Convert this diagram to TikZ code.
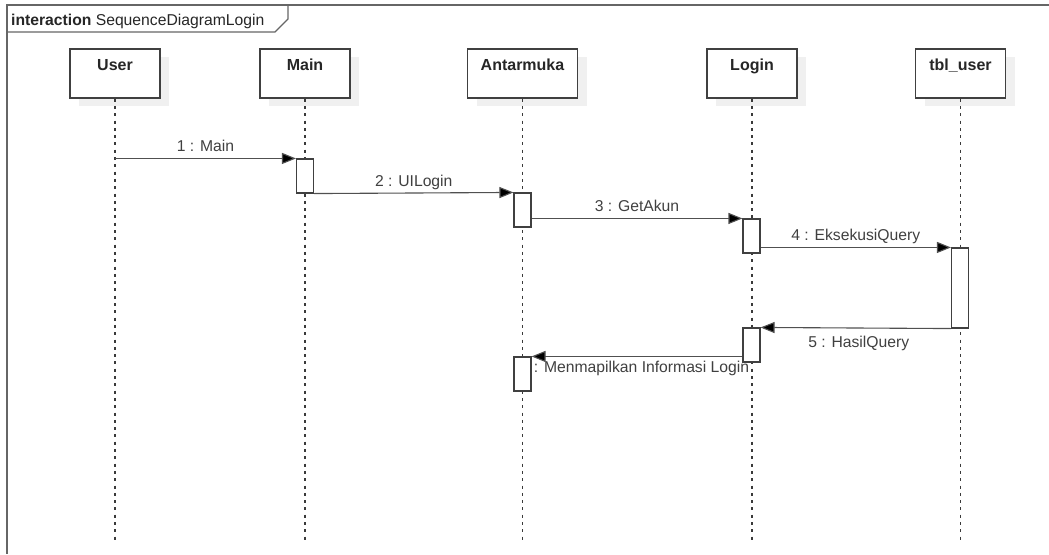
\documentclass[tikz,border=0pt]{standalone}
\usepackage{fontspec}
\setmainfont{Liberation Sans}
\usetikzlibrary{arrows.meta,shadows}
\definecolor{frameline}{HTML}{666666}
\definecolor{boxline}{HTML}{404040}
\definecolor{msgline}{HTML}{505050}
\definecolor{lifeline}{HTML}{3A3A3A}
\definecolor{shadowgray}{HTML}{F0F0F0}
\definecolor{labeltext}{HTML}{404040}
\begin{document}
\begin{tikzpicture}[x=1pt,y=-1pt,
  every node/.style={font=\fontsize{15.7}{18}\selectfont},
  head/.style={draw=boxline, line width=1.2pt, fill=white,
    minimum width=90pt, minimum height=49pt, inner sep=0pt,
    general shadow={fill=shadowgray, shadow xshift=9pt, shadow yshift=-8pt}},
  headtext/.style={font=\fontsize{16}{18}\selectfont\bfseries, text=black!85},
  actbar/.style={draw=boxline, line width=1.1pt, fill=white,
    minimum width=17pt, inner sep=0pt},
  life/.style={draw=lifeline, line width=1.2pt, dash pattern=on 3pt off 4.3pt},
  msg/.style={draw=msgline, line width=1.1pt,
    -{Triangle[length=14pt,width=11pt,fill=black]}},
  msgabove/.style={anchor=base, yshift=6.5pt, text=labeltext, inner sep=0pt},
  msgbelow/.style={anchor=base, yshift=-19.5pt, text=labeltext, inner sep=0pt}]
\useasboundingbox (0,0) rectangle (1049,554);

% interaction frame and its name tab
\draw[frameline, line width=1.5pt] (1049,5) -- (7,5) -- (7,554);
\draw[frameline, line width=1.2pt] (7,32) -- (275,32) -- (288,19) -- (288,5);
\node[anchor=base west, inner sep=0pt, text=black!85] (ftitle) at (11,25)
  {\textbf{interaction} SequenceDiagramLogin};

% lifeline heads
\node[head] (user)  at (115,73.5) {};
\node[head] (main)  at (305,73.5) {};
\node[head, minimum width=110pt] (antar) at (522.5,73.5) {};
\node[head] (login) at (752,73.5) {};
\node[head] (tbl)   at (960.5,73.5) {};
\foreach \h/\t in {user/User, main/Main, antar/Antarmuka, login/Login, tbl/tbl\_user}
  \node[headtext, anchor=base, inner sep=0pt] (\h-name) at ([yshift=-22pt]\h.north) {\t};

% lifelines
\coordinate (bottom) at (0,543);
\foreach \h in {user, main, antar, login, tbl}
  \draw[life] (\h.south) -- (\h |- bottom);

% activation bars
\node[actbar, minimum height=34pt] (mact1) at (305,176) {};
\node[actbar, minimum height=34pt] (aact1) at (522.5,210) {};
\node[actbar, minimum height=34pt] (lact1) at (751.5,236) {};
\node[actbar, minimum height=80pt] (tact)  at (960,288) {};
\node[actbar, minimum height=34pt] (lact2) at (751.5,345) {};
\node[actbar, minimum height=34pt] (aact2) at (522.5,374) {};

% messages
\draw[msg] (user |- mact1.north) -- node[msgabove] {1 : Main} (mact1.north west);
\draw[msg] (mact1.south east) -- node[msgabove] {2 : UILogin} (aact1.north west);
\draw[msg] (aact1.east |- lact1.north) -- node[msgabove] {3 : GetAkun} (lact1.north west);
\draw[msg] (lact1.east |- tact.north) -- node[msgabove] {4 : EksekusiQuery} (tact.north west);
\draw[msg] (tact.south west) -- node[msgbelow, xshift=3pt] {5 : HasilQuery} (lact2.north east);
\draw[msg] (lact2.west |- aact2.north) -- node[msgbelow, xshift=4.5pt, yshift=3.5pt] {: Menmapilkan Informasi Login} (aact2.north east);
\end{tikzpicture}
\end{document}
